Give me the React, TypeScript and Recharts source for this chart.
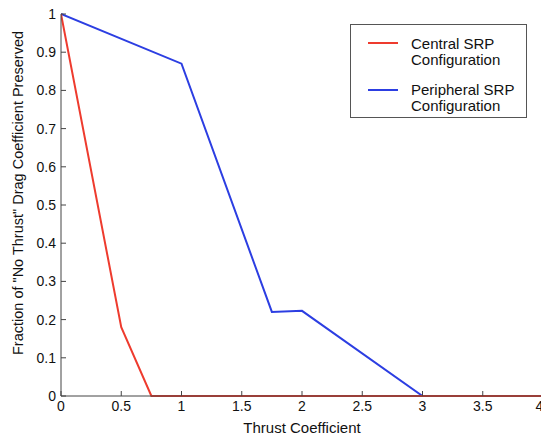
import { LineChart, Line, XAxis, YAxis, Legend } from 'recharts';

const xTicks = [0, 0.5, 1, 1.5, 2, 2.5, 3, 3.5, 4];
const yTicks = [0, 0.1, 0.2, 0.3, 0.4, 0.5, 0.6, 0.7, 0.8, 0.9, 1];

const centralThrust = [0, 0.5, 0.75, 4];
const centralFraction = [1, 0.18, 0, 0];

const peripheralThrust = [0, 1, 1.75, 2, 3, 4];
const peripheralFraction = [1, 0.87, 0.22, 0.223, 0, 0];

const central = centralThrust.map((x, i) => ({ x, y: centralFraction[i] }));
const peripheral = peripheralThrust.map((x, i) => ({ x, y: peripheralFraction[i] }));

const RED = '#ee3b2e';
const BLUE = '#2c3ee2';
const font = 'Liberation Sans, Arial, Helvetica, sans-serif';

const legendItems = [
  { color: RED, lines: ['Central SRP', 'Configuration'], lineTop: 6 },
  { color: BLUE, lines: ['Peripheral SRP', 'Configuration'], lineTop: 7 },
];

const LegendBox = () => (
  <div
    style={{
      border: '1px solid #555',
      background: '#fff',
      width: 177,
      height: 94,
      boxSizing: 'border-box',
      padding: '11px 0 0 17px',
      fontFamily: font,
      fontSize: 15,
      color: '#111',
    }}
  >
    {legendItems.map((item, i) => (
      <div key={i} style={{ display: 'flex', alignItems: 'flex-start', marginBottom: i === 0 ? 14 : 0 }}>
        <div style={{ width: 30, height: 2, background: item.color, marginTop: item.lineTop, marginRight: 13 }} />
        <div style={{ lineHeight: '16px', whiteSpace: 'nowrap' }}>
          {item.lines.map((t, j) => (
            <div key={j}>{t}</div>
          ))}
        </div>
      </div>
    ))}
  </div>
);

const YLabel = ({ viewBox }: any) => {
  const cx = 18;
  const cy = viewBox.y + viewBox.height / 2 - 12;
  return (
    <text
      x={cx}
      y={cy}
      transform={`rotate(-90, ${cx}, ${cy})`}
      textAnchor="middle"
      dominantBaseline="central"
      fill="#111"
      fontSize={14.5}
      fontFamily={font}
    >
      Fraction of "No Thrust" Drag Coefficient Preserved
    </text>
  );
};

export default function App() {
  return (
    <div style={{ position: 'absolute', left: 0, top: 0, width: 541, height: 436, overflow: 'hidden', background: '#fff' }}>
      <LineChart width={543} height={436} margin={{ top: 14, right: 0, bottom: 0, left: 0 }}>
        <XAxis
          dataKey="x"
          type="number"
          domain={[0, 4]}
          ticks={xTicks}
          allowDataOverflow
          height={40}
          tickSize={-5}
          tickMargin={10}
          stroke="#444"
          tick={{ fill: '#111', fontSize: 14, fontFamily: font }}
          label={{ value: 'Thrust Coefficient', position: 'insideBottom', offset: 3, fill: '#111', fontSize: 15, fontFamily: font }}
        />
        <XAxis
          xAxisId="top"
          orientation="top"
          type="number"
          domain={[0, 4]}
          ticks={xTicks}
          height={0}
          tickSize={-5}
          tick={false}
          stroke="#444"
        />
        <YAxis
          type="number"
          domain={[0, 1]}
          ticks={yTicks}
          width={61}
          tickSize={-5}
          tickMargin={10}
          stroke="#444"
          tick={{ fill: '#111', fontSize: 14, fontFamily: font }}
          label={<YLabel />}
        />
        <YAxis
          yAxisId="right"
          orientation="right"
          type="number"
          domain={[0, 1]}
          ticks={yTicks}
          width={0}
          tickSize={-5}
          tick={false}
          stroke="#444"
        />
        <Line data={peripheral} dataKey="y" stroke={BLUE} strokeWidth={2} dot={false} isAnimationActive={false} />
        <Line data={central} dataKey="y" stroke={RED} strokeWidth={2} dot={false} isAnimationActive={false} />
        <Legend
          layout="vertical"
          align="center"
          verticalAlign="middle"
          wrapperStyle={{ left: 350, top: 24, width: 177 }}
          content={() => <LegendBox />}
        />
      </LineChart>
    </div>
  );
}
